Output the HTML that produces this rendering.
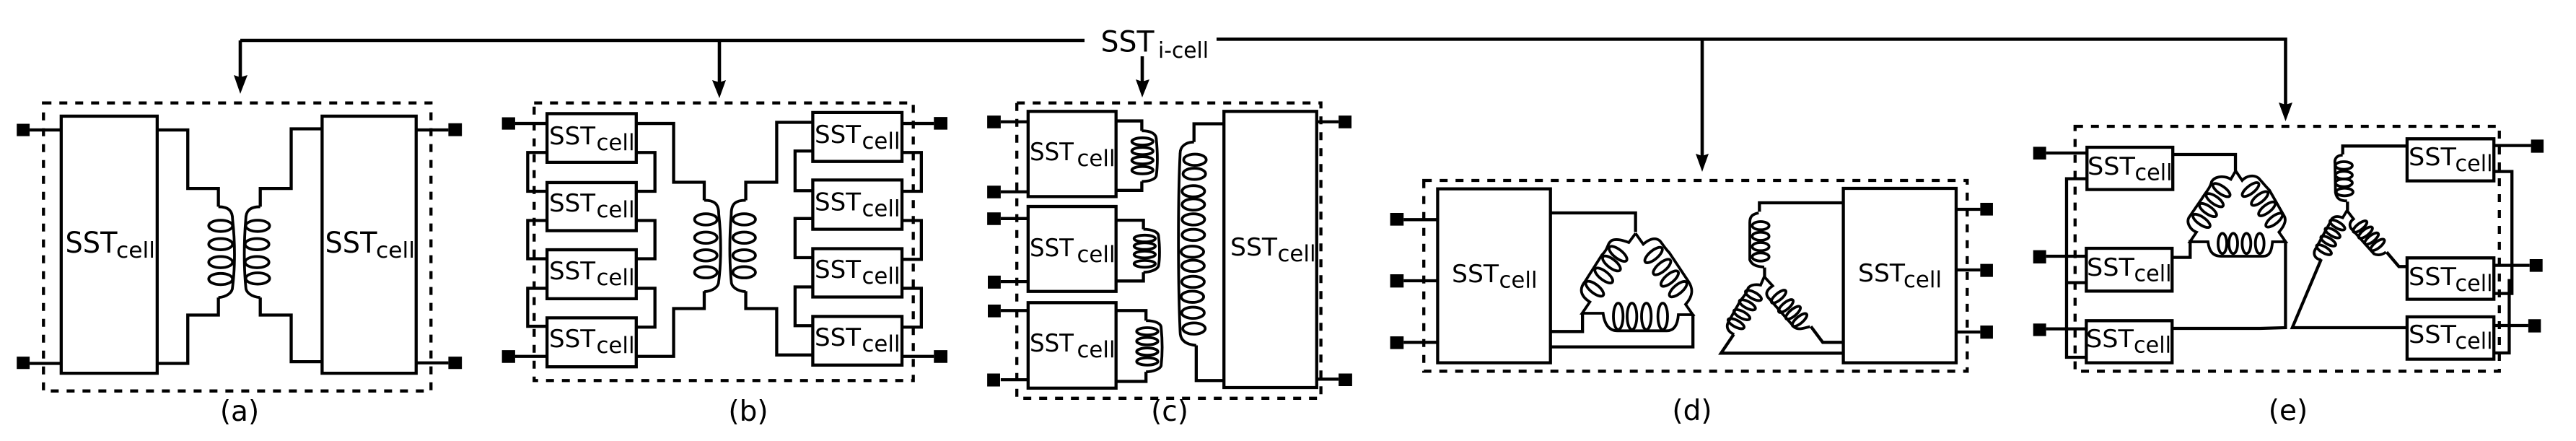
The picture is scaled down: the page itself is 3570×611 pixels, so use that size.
<!DOCTYPE html>
<html>
<head>
<meta charset="utf-8">
<style>
html,body{margin:0;padding:0;background:#fff;width:3570px;height:611px;overflow:hidden}
svg{display:block}
svg path,svg ellipse,svg rect{vector-effect:non-scaling-stroke}
.d{fill:none;stroke:#000;stroke-width:4.3}
.c{fill:none;stroke:#000;stroke-width:3.8}
.h{fill:none;stroke:#000;stroke-width:4.3;stroke-dasharray:11 11}
.k{fill:#000;stroke:none}
text{font-family:"DejaVu Sans","Liberation Sans",sans-serif;fill:#000}
.b{font-size:40px}.m{font-size:34px}.u{font-size:31px}.v{font-size:30px}
.lab{font-size:39px;text-anchor:middle}
</style>
</head>
<body>
<svg width="3570" height="611" viewBox="0 0 3570 611" xmlns="http://www.w3.org/2000/svg">
<rect width="3570" height="611" fill="#fff"/>

<!-- Main bus -->
<path class="d" style="stroke-width:4.6" d="M333,56H1503M1686,54.3H3167.5V150M2359,54.3V222M333,56V112M997,56V118M1583,78V118"/>
<path class="k" d="M324,104L333,107L343,104L333,130ZM987,111L997,114L1006,111L997,136ZM1574,110L1583,113L1593,110L1583,135ZM2350,213L2359,216L2368,213L2359,238ZM3158,142L3167.5,145L3177,142L3167.5,168Z"/>

<!-- Panel (a) -->
<g transform="scale(.4464,.3897)">
<path class="h" d="M135,366H1338V1390H135Z"/>
<path class="d" d="M190,413H488V1327H190ZM1000,413H1292V1327H1000Z"/>
<path class="d" d="M92,462H190M92,1292H190M1292,462H1392M1292,1290H1392"/>
<path class="d" d="M488,462H583V670H678V735M488,1292H583V1120H678V1058M1000,458H904V670H808V735M1000,1286H904V1120H808V1058"/>
<path class="k" d="M52,440H92V484H52ZM52,1268H92V1312H52ZM1392,438H1434V484H1392ZM1392,1268H1434V1312H1392Z"/>
<path class="c" d="M678,735C710,735 722,750 722,780C730,860 730,950 722,1020C722,1040 705,1055 678,1058M808,735C775,735 763,750 763,780C757,860 757,950 763,1020C763,1040 780,1055 808,1058"/>
<g class="c">
<ellipse cx="685" cy="803" rx="37" ry="20"/><ellipse cx="685" cy="868" rx="37" ry="20"/><ellipse cx="685" cy="932" rx="37" ry="20"/><ellipse cx="685" cy="992" rx="37" ry="20"/>
<ellipse cx="800" cy="803" rx="37" ry="20"/><ellipse cx="798" cy="868" rx="37" ry="20"/><ellipse cx="798" cy="932" rx="37" ry="20"/><ellipse cx="800" cy="990" rx="37" ry="20"/>
</g>
</g>

<!-- Panel (b) -->
<g transform="translate(680,0) scale(.4464,.3897)">
<path class="h" d="M135,366H1312V1353H135Z"/>
<path class="d" d="M175,404H452V577H175ZM175,649H452V820H175ZM175,888H452V1062H175ZM175,1130H452V1304H175Z"/>
<path class="d" d="M1000,400H1277V574H1000ZM1000,640H1277V815H1000ZM1000,884H1277V1056H1000ZM1000,1125H1277V1298H1000Z"/>
<path class="d" d="M76,439H175M76,1267H175M1277,439H1376M1277,1267H1376"/>
<path class="d" d="M175,542H115V680H175M175,784H115V920H175M175,1025H115V1160H175M452,542H510V680H452M452,784H510V920H452M452,1025H510V1163H452"/>
<path class="d" d="M1000,537H945V678H1000M1000,777H945V916H1000M1000,1020H945V1158H1000M1277,542H1337V680H1277M1277,784H1337V922H1277M1277,1025H1337V1163H1277"/>
<path class="d" d="M452,439H568V648H663V712M452,1267H568V1097H663V1035M1000,435H888V648H792V712M1000,1262H888V1097H792V1035"/>
<path class="k" d="M35,417H76V461H35ZM35,1245H76V1290H35ZM1376,416H1418V461H1376ZM1376,1245H1418V1290H1376Z"/>
<path class="c" d="M663,712C695,712 708,725 708,760C716,840 716,930 708,1000C708,1020 690,1035 663,1037M792,712C760,712 747,725 747,760C741,840 741,930 747,1000C747,1020 765,1035 792,1037"/>
<g class="c">
<ellipse cx="668" cy="780" rx="35" ry="20"/><ellipse cx="668" cy="845" rx="35" ry="20"/><ellipse cx="668" cy="908" rx="35" ry="20"/><ellipse cx="668" cy="968" rx="35" ry="20"/>
<ellipse cx="787" cy="780" rx="35" ry="20"/><ellipse cx="787" cy="845" rx="35" ry="20"/><ellipse cx="787" cy="908" rx="35" ry="20"/><ellipse cx="787" cy="968" rx="35" ry="20"/>
</g>
</g>

<!-- Panel (c) -->
<g transform="translate(1340,0) scale(.4464,.3897)">
<path class="h" d="M155,366H1099V1416H155Z"/>
<path class="d" d="M190,396H463V699H190ZM190,734H463V1036H190ZM190,1076H463V1380H190ZM798,396H1086V1378H798Z"/>
<path class="d" d="M105,433H190M105,682H190M105,777H190M105,1001H190M105,1104H190M105,1350H190M1086,433H1154M1086,1348H1154"/>
<path class="k" d="M63,411H105V456H63ZM63,660H105V705H63ZM63,755H105V800H63ZM65,980H105V1026H65ZM65,1083H105V1128H65ZM63,1328H103V1374H63ZM1154,411H1194V456H1154ZM1154,1328H1196V1373H1154Z"/>
<path class="d" d="M463,430H543V465M463,677H543V645M463,783H548V815M463,999H548V968M463,1104H556V1140M463,1356H556V1322M798,440H705V505M712,1228V1353H798"/>
<path class="c" d="M543,465C570,465 588,475 588,495C592,540 592,590 588,625C585,638 565,645 543,645M548,815C575,815 595,825 595,840C599,875 599,920 595,945C592,958 570,968 548,968M556,1140C585,1140 603,1150 603,1165C607,1210 607,1260 603,1300C600,1312 578,1322 556,1322M705,505C680,505 662,520 662,545C655,700 655,1000 662,1180C662,1210 680,1225 712,1228"/>
<g class="c">
<ellipse cx="545" cy="503" rx="33" ry="13"/><ellipse cx="545" cy="537" rx="33" ry="13"/><ellipse cx="545" cy="570" rx="33" ry="13"/><ellipse cx="545" cy="605" rx="33" ry="13"/>
<ellipse cx="552" cy="848" rx="33" ry="12"/><ellipse cx="552" cy="875" rx="33" ry="12"/><ellipse cx="552" cy="905" rx="33" ry="12"/><ellipse cx="552" cy="938" rx="33" ry="12"/>
<ellipse cx="560" cy="1178" rx="33" ry="13"/><ellipse cx="560" cy="1213" rx="33" ry="13"/><ellipse cx="560" cy="1250" rx="33" ry="13"/><ellipse cx="560" cy="1285" rx="33" ry="13"/>
<ellipse cx="708" cy="568" rx="35" ry="20"/><ellipse cx="706" cy="618" rx="35" ry="20"/><ellipse cx="703" cy="680" rx="35" ry="20"/><ellipse cx="703" cy="727" rx="35" ry="20"/><ellipse cx="703" cy="780" rx="35" ry="20"/><ellipse cx="703" cy="835" rx="35" ry="20"/><ellipse cx="700" cy="895" rx="35" ry="20"/><ellipse cx="702" cy="945" rx="35" ry="20"/><ellipse cx="702" cy="1002" rx="35" ry="20"/><ellipse cx="700" cy="1055" rx="35" ry="20"/><ellipse cx="702" cy="1112" rx="35" ry="20"/><ellipse cx="705" cy="1168" rx="35" ry="20"/>
</g>
</g>

<!-- Panel (d) outer + wires -->
<g transform="translate(1920,200) scale(.5485,.3333)">
<path class="h" d="M97,150H1470V943H97Z"/>
<path class="d" d="M132,185H417V908H132ZM1157,183H1442V908H1157Z"/>
<path class="d" d="M46,313H132M46,567H132M46,823H132M1442,270H1503M1442,522H1503M1442,780H1503"/>
<path class="k" d="M12,285H46V338H12ZM12,540H46V595H12ZM12,798H46V851H12ZM1503,243H1535V296H1503ZM1503,497H1535V551H1503ZM1503,753H1535V808H1503Z"/>
<path class="d" d="M417,285H632V365M417,778H498V705M417,842H777V705M1157,243H945V280M958,512V555M1157,823H1105L1075,757M880,790L848,868H1157"/>
</g>
<!-- (d) delta coil, true scale -->
<g transform="translate(2170,310) scale(.33333)">
<path class="c" d="M290,40L262,78C240,70 210,60 190,70C170,85 180,100 150,130L80,240C55,270 60,300 100,325L68,372H155C160,410 175,445 215,445H420C450,445 465,420 468,378H528L498,335C530,300 530,270 510,240L430,120C410,100 400,80 390,70C370,55 345,65 322,85L290,40"/>
<g class="c">
<ellipse cx="217" cy="125" rx="45" ry="18" transform="rotate(38 217 125)"/><ellipse cx="190" cy="165" rx="45" ry="18" transform="rotate(38 190 165)"/><ellipse cx="158" cy="215" rx="45" ry="18" transform="rotate(38 158 215)"/><ellipse cx="120" cy="270" rx="45" ry="18" transform="rotate(38 120 270)"/>
<ellipse cx="365" cy="130" rx="45" ry="18" transform="rotate(-40 365 130)"/><ellipse cx="400" cy="180" rx="45" ry="18" transform="rotate(-40 400 180)"/><ellipse cx="432" cy="228" rx="45" ry="18" transform="rotate(-40 432 228)"/><ellipse cx="467" cy="272" rx="45" ry="18" transform="rotate(-40 467 272)"/>
<ellipse cx="218" cy="385" rx="20" ry="55"/><ellipse cx="275" cy="385" rx="20" ry="55"/><ellipse cx="335" cy="385" rx="20" ry="55"/><ellipse cx="403" cy="385" rx="20" ry="55"/>
</g>
</g>
<!-- (d) star coil, true scale -->
<g transform="translate(2390,270) scale(.33333)">
<path class="c" d="M142,75C115,80 105,90 105,115L105,270C115,295 140,298 165,300M165,340L150,375C125,370 100,375 95,395C90,415 70,430 60,450L15,530C5,550 15,570 40,580M165,340L200,378C175,395 170,410 180,425L290,550C310,565 340,550 355,548"/>
<g class="c">
<ellipse cx="150" cy="128" rx="35" ry="17"/><ellipse cx="150" cy="172" rx="35" ry="17"/><ellipse cx="150" cy="215" rx="35" ry="17"/><ellipse cx="150" cy="258" rx="35" ry="17"/>
<ellipse cx="120" cy="418" rx="37" ry="14" transform="rotate(28 120 418)"/><ellipse cx="95" cy="457" rx="37" ry="14" transform="rotate(28 95 457)"/><ellipse cx="72" cy="498" rx="37" ry="14" transform="rotate(28 72 498)"/><ellipse cx="48" cy="535" rx="37" ry="14" transform="rotate(28 48 535)"/>
<ellipse cx="225" cy="423" rx="38" ry="14" transform="rotate(-40 225 423)"/><ellipse cx="255" cy="462" rx="38" ry="14" transform="rotate(-40 255 462)"/><ellipse cx="285" cy="490" rx="38" ry="14" transform="rotate(-40 285 490)"/><ellipse cx="312" cy="520" rx="38" ry="14" transform="rotate(-40 312 520)"/>
</g>
</g>

<!-- Panel (e) outer + wires -->
<g transform="translate(2830,140) scale(.4719,.3333)">
<path class="h" d="M97,105H1343V1123H97Z"/>
<path class="d" d="M132,192H384V368H132ZM130,612H382V790H130ZM130,913H382V1088H130ZM1072,157H1327V332H1072ZM1072,652H1327V824H1072ZM1072,897H1327V1073H1072Z"/>
<path class="d" d="M12,216H132M12,645H130M12,947H130M1327,185H1436M1327,683H1432M1327,933H1428"/>
<path class="k" d="M-26,190H12V243H-26ZM-26,620H12V675H-26ZM-26,925H12V977H-26ZM1436,160H1473V215H1436ZM1432,657H1470V710H1432ZM1428,907H1465V962H1428Z"/>
<path class="d" d="M132,323H72V1065H130M72,755H130M1327,293H1380V800H1327M1327,1047H1372V740"/>
<path class="d" d="M384,222H568V290M382,650H435V578M382,945H640L715,942V588M1072,187H883V222M897,418V455M1072,688H1048L1012,628M820,657L735,942H1072"/>
</g>
<!-- (e) delta coil, true scale -->
<g transform="translate(3020,220) scale(.33333)">
<path class="c" d="M235,50L215,85C190,70 150,70 135,95C130,120 110,140 95,165L40,245C30,265 45,295 72,305L45,345H120C125,385 140,405 175,405H350C375,405 385,385 388,345H443L415,305C445,270 445,250 435,235L375,130C355,110 340,90 330,80C310,65 280,70 262,90L235,50"/>
<g class="c">
<ellipse cx="176" cy="130" rx="42" ry="16" transform="rotate(35 176 130)"/><ellipse cx="148" cy="172" rx="42" ry="16" transform="rotate(35 148 172)"/><ellipse cx="120" cy="213" rx="42" ry="16" transform="rotate(35 120 213)"/><ellipse cx="93" cy="258" rx="42" ry="16" transform="rotate(35 93 258)"/>
<ellipse cx="297" cy="128" rx="42" ry="16" transform="rotate(-38 297 128)"/><ellipse cx="335" cy="165" rx="42" ry="16" transform="rotate(-38 335 165)"/><ellipse cx="365" cy="208" rx="42" ry="16" transform="rotate(-38 365 208)"/><ellipse cx="395" cy="255" rx="42" ry="16" transform="rotate(-38 395 255)"/>
<ellipse cx="180" cy="352" rx="18" ry="42"/><ellipse cx="225" cy="352" rx="18" ry="42"/><ellipse cx="280" cy="352" rx="18" ry="42"/><ellipse cx="335" cy="352" rx="18" ry="42"/>
</g>
</g>
<!-- (e) star coil, true scale -->
<g transform="translate(3190,190) scale(.33333)">
<path class="c" d="M170,75C145,75 135,90 138,110L140,230C145,260 165,265 188,265M188,305L170,335C145,325 125,330 120,350L60,460C45,480 50,505 80,510M188,305L215,340C195,355 195,375 215,390L300,485C320,495 340,485 350,478"/>
<g class="c">
<ellipse cx="175" cy="118" rx="35" ry="16"/><ellipse cx="175" cy="158" rx="35" ry="16"/><ellipse cx="175" cy="190" rx="35" ry="16"/><ellipse cx="178" cy="228" rx="35" ry="16"/>
<ellipse cx="148" cy="365" rx="35" ry="13" transform="rotate(30 148 365)"/><ellipse cx="128" cy="398" rx="35" ry="13" transform="rotate(30 128 398)"/><ellipse cx="110" cy="432" rx="35" ry="13" transform="rotate(30 110 432)"/><ellipse cx="92" cy="468" rx="35" ry="13" transform="rotate(30 92 468)"/>
<ellipse cx="242" cy="372" rx="35" ry="13" transform="rotate(-38 242 372)"/><ellipse cx="265" cy="397" rx="35" ry="13" transform="rotate(-38 265 397)"/><ellipse cx="290" cy="422" rx="35" ry="13" transform="rotate(-38 290 422)"/><ellipse cx="315" cy="448" rx="35" ry="13" transform="rotate(-38 315 448)"/>
</g>
</g>

<!-- Text -->
<text class="b" x="1525.5" y="71.5" textLength="74" lengthAdjust="spacingAndGlyphs">SST</text><text class="v" x="1605" y="80" textLength="70" lengthAdjust="spacingAndGlyphs">i-cell</text>

<text class="b" x="90.5" y="350" textLength="72" lengthAdjust="spacingAndGlyphs">SST</text><text class="v" x="161" y="357" textLength="54" lengthAdjust="spacingAndGlyphs">cell</text>
<text class="b" x="450.5" y="350" textLength="72" lengthAdjust="spacingAndGlyphs">SST</text><text class="v" x="521" y="357" textLength="54" lengthAdjust="spacingAndGlyphs">cell</text>

<text class="m" x="761" y="200" textLength="64" lengthAdjust="spacingAndGlyphs">SST</text><text class="u" x="826.5" y="208" textLength="53" lengthAdjust="spacingAndGlyphs">cell</text>
<text class="m" x="761" y="293" textLength="64" lengthAdjust="spacingAndGlyphs">SST</text><text class="u" x="826.5" y="301" textLength="53" lengthAdjust="spacingAndGlyphs">cell</text>
<text class="m" x="761" y="387" textLength="64" lengthAdjust="spacingAndGlyphs">SST</text><text class="u" x="826.5" y="395" textLength="53" lengthAdjust="spacingAndGlyphs">cell</text>
<text class="m" x="761" y="481" textLength="64" lengthAdjust="spacingAndGlyphs">SST</text><text class="u" x="826.5" y="489" textLength="53" lengthAdjust="spacingAndGlyphs">cell</text>
<text class="m" x="1129" y="198" textLength="64" lengthAdjust="spacingAndGlyphs">SST</text><text class="u" x="1194.5" y="206" textLength="53" lengthAdjust="spacingAndGlyphs">cell</text>
<text class="m" x="1129" y="291.5" textLength="64" lengthAdjust="spacingAndGlyphs">SST</text><text class="u" x="1194.5" y="299.5" textLength="53" lengthAdjust="spacingAndGlyphs">cell</text>
<text class="m" x="1129" y="385" textLength="64" lengthAdjust="spacingAndGlyphs">SST</text><text class="u" x="1194.5" y="393" textLength="53" lengthAdjust="spacingAndGlyphs">cell</text>
<text class="m" x="1129" y="479" textLength="64" lengthAdjust="spacingAndGlyphs">SST</text><text class="u" x="1194.5" y="487" textLength="53" lengthAdjust="spacingAndGlyphs">cell</text>

<text class="m" x="1427" y="222" textLength="61" lengthAdjust="spacingAndGlyphs">SST</text><text class="u" x="1492.5" y="230" textLength="53" lengthAdjust="spacingAndGlyphs">cell</text>
<text class="m" x="1427" y="355" textLength="61" lengthAdjust="spacingAndGlyphs">SST</text><text class="u" x="1492.5" y="363" textLength="53" lengthAdjust="spacingAndGlyphs">cell</text>
<text class="m" x="1427" y="487" textLength="61" lengthAdjust="spacingAndGlyphs">SST</text><text class="u" x="1492.5" y="495" textLength="53" lengthAdjust="spacingAndGlyphs">cell</text>
<text class="m" x="1705" y="354" textLength="65" lengthAdjust="spacingAndGlyphs">SST</text><text class="u" x="1770.5" y="362" textLength="53" lengthAdjust="spacingAndGlyphs">cell</text>

<text class="m" x="2012" y="391" textLength="65" lengthAdjust="spacingAndGlyphs">SST</text><text class="u" x="2077.5" y="398.5" textLength="53" lengthAdjust="spacingAndGlyphs">cell</text>
<text class="m" x="2575" y="390" textLength="65" lengthAdjust="spacingAndGlyphs">SST</text><text class="u" x="2638" y="398" textLength="53" lengthAdjust="spacingAndGlyphs">cell</text>

<text class="m" x="2893" y="242" textLength="66" lengthAdjust="spacingAndGlyphs">SST</text><text class="u" x="2958.5" y="249.5" textLength="52" lengthAdjust="spacingAndGlyphs">cell</text>
<text class="m" x="2892" y="382" textLength="66" lengthAdjust="spacingAndGlyphs">SST</text><text class="u" x="2957.5" y="389.5" textLength="52" lengthAdjust="spacingAndGlyphs">cell</text>
<text class="m" x="2891" y="481" textLength="66" lengthAdjust="spacingAndGlyphs">SST</text><text class="u" x="2957" y="488.5" textLength="52" lengthAdjust="spacingAndGlyphs">cell</text>
<text class="m" x="3338" y="229" textLength="66" lengthAdjust="spacingAndGlyphs">SST</text><text class="u" x="3402.5" y="237" textLength="52" lengthAdjust="spacingAndGlyphs">cell</text>
<text class="m" x="3338" y="395" textLength="66" lengthAdjust="spacingAndGlyphs">SST</text><text class="u" x="3402.5" y="403" textLength="52" lengthAdjust="spacingAndGlyphs">cell</text>
<text class="m" x="3338" y="475" textLength="66" lengthAdjust="spacingAndGlyphs">SST</text><text class="u" x="3402.5" y="483" textLength="52" lengthAdjust="spacingAndGlyphs">cell</text>

<text class="lab" x="332" y="583">(a)</text>
<text class="lab" x="1037" y="583">(b)</text>
<text class="lab" x="1621" y="583">(c)</text>
<text class="lab" x="2345" y="582">(d)</text>
<text class="lab" x="3171" y="582">(e)</text>
</svg>
</body>
</html>
